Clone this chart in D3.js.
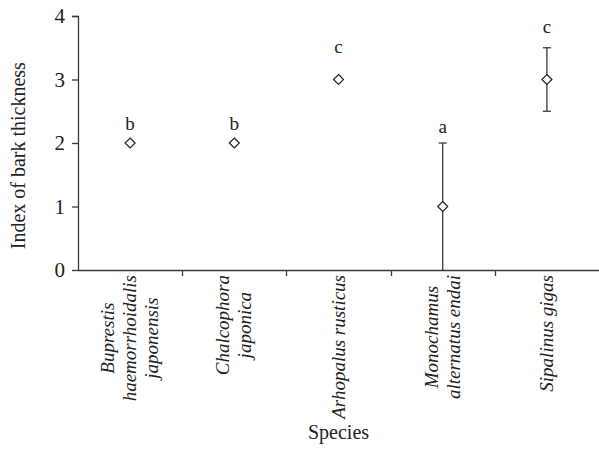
<!DOCTYPE html>
<html>
<head>
<meta charset="utf-8">
<script src="https://cdn.jsdelivr.net/npm/d3@7"></script>
<style>
  body { margin: 0; background: #fff; }
  svg, svg text { font-family: "Liberation Serif", "DejaVu Serif", serif; }
</style>
</head>
<body>
<div id="chart"></div>
<script>
// data
const species = [
  ["Buprestis", "haemorrhoidalis", "japonensis"],
  ["Chalcophora", "japonica"],
  ["Arhopalus rusticus"],
  ["Monochamus", "alternatus endai"],
  ["Sipalinus gigas"]
]
const means = [2, 2, 3, 1, 3]
const errs = [0, 0, 0, 1, 0.5]
const letters = ["b", "b", "c", "a", "c"]
const letterAt = [2.2, 2.2, 3.42, 2.16, 3.73]   // where the letters sit, in index units
const yTicks = [0, 1, 2, 3, 4]

const W = 599, H = 450
const margin = {top: 16, right: 0, bottom: 180, left: 78},
  w = W - margin.left - margin.right,
  h = H - margin.top - margin.bottom

const ink = "#3a3a3a"

const svg = d3.select("#chart").append("svg")
  .attr("width", W)
  .attr("height", H)
  .append("g")
  .attr("transform", `translate(${margin.left},${margin.top})`)

const x = d3.scaleBand()
  .domain(d3.range(species.length))
  .range([0, w])
  .padding(0)

const y = d3.scaleLinear()
  .domain([0, 4])
  .range([h, 0])

// y axis
const yAxis = svg.append("g")
  .call(d3.axisLeft(y).tickValues(yTicks).tickFormat(d3.format("d")).tickSize(6).tickPadding(7))
  .attr("font-family", null)
  .attr("font-size", null)
yAxis.select(".domain").attr("d", `M-6,0.5H0.5V${h + 0.5}`)

// x axis: ticks between bands
const xAxis = svg.append("g")
  .attr("transform", `translate(0,${h})`)
xAxis.append("line")
  .attr("x1", 0).attr("x2", w)
  .attr("y1", 0.5).attr("y2", 0.5)
xAxis.selectAll(".sep")
  .data(d3.range(1, species.length))
  .enter().append("line")
  .attr("class", "sep")
  .attr("x1", d => Math.round(x(d)) + 0.5)
  .attr("x2", d => Math.round(x(d)) + 0.5)
  .attr("y1", 0).attr("y2", 6)

svg.selectAll(".domain, .tick line").attr("stroke", ink).attr("stroke-width", 1.3)
xAxis.selectAll("line").attr("stroke", ink).attr("stroke-width", 1.3)
yAxis.selectAll(".tick text")
  .attr("font-size", 21)
  .attr("fill", "#222")

// species labels, rotated
const labels = svg.selectAll(".sp")
  .data(species)
  .enter().append("g")
  .attr("class", "sp")
  .attr("transform", (d, i) => `translate(${x(i) + x.bandwidth() / 2},${h + 5}) rotate(-90)`)

labels.each(function(lines) {
  const g = d3.select(this)
  const n = lines.length
  const t = g.selectAll("text")
    .data(lines)
    .enter().append("text")
    .attr("font-size", 19)
    .attr("font-style", "italic")
    .attr("fill", "#222")
    .attr("y", (d, k) => (k - (n - 1) / 2) * 22 + 6)
    .text(d => d)
  const maxW = d3.max(t.nodes(), nd => nd.getComputedTextLength())
  t.attr("text-anchor", "middle").attr("x", -maxW / 2)
})

// error bars
const eb = svg.selectAll(".eb")
  .data(means.map((m, i) => ({i, m, e: errs[i]})).filter(d => d.e > 0))
  .enter().append("g")
  .attr("class", "eb")
  .attr("stroke", ink)
  .attr("stroke-width", 1.3)
eb.append("line")
  .attr("x1", d => x(d.i) + x.bandwidth() / 2)
  .attr("x2", d => x(d.i) + x.bandwidth() / 2)
  .attr("y1", d => y(d.m - d.e))
  .attr("y2", d => y(d.m + d.e))
eb.append("line")
  .attr("x1", d => x(d.i) + x.bandwidth() / 2 - 4)
  .attr("x2", d => x(d.i) + x.bandwidth() / 2 + 4)
  .attr("y1", d => y(d.m + d.e))
  .attr("y2", d => y(d.m + d.e))
eb.filter(d => d.m - d.e > 0).append("line")
  .attr("x1", d => x(d.i) + x.bandwidth() / 2 - 4)
  .attr("x2", d => x(d.i) + x.bandwidth() / 2 + 4)
  .attr("y1", d => y(d.m - d.e))
  .attr("y2", d => y(d.m - d.e))

// diamonds
svg.selectAll(".pt")
  .data(means)
  .enter().append("path")
  .attr("class", "pt")
  .attr("d", "M0,-5L5,0L0,5L-5,0Z")
  .attr("transform", (d, i) => `translate(${x(i) + x.bandwidth() / 2},${y(d)})`)
  .attr("fill", "#fff")
  .attr("stroke", "#222")
  .attr("stroke-width", 1.2)

// significance letters
svg.selectAll(".let")
  .data(letters)
  .enter().append("text")
  .attr("class", "let")
  .attr("x", (d, i) => x(i) + x.bandwidth() / 2)
  .attr("y", (d, i) => y(letterAt[i]))
  .attr("text-anchor", "middle")
  .attr("font-size", 19)
  .attr("fill", "#222")
  .text(d => d)

// axis titles
svg.append("text")
  .attr("transform", `translate(${-53},${y(1.8)}) rotate(-90)`)
  .attr("text-anchor", "middle")
  .attr("font-size", 20)
  .attr("fill", "#222")
  .text("Index of bark thickness")

svg.append("text")
  .attr("x", w / 2)
  .attr("y", h + 169)
  .attr("text-anchor", "middle")
  .attr("font-size", 20)
  .attr("fill", "#222")
  .text("Species")
</script>
</body>
</html>
